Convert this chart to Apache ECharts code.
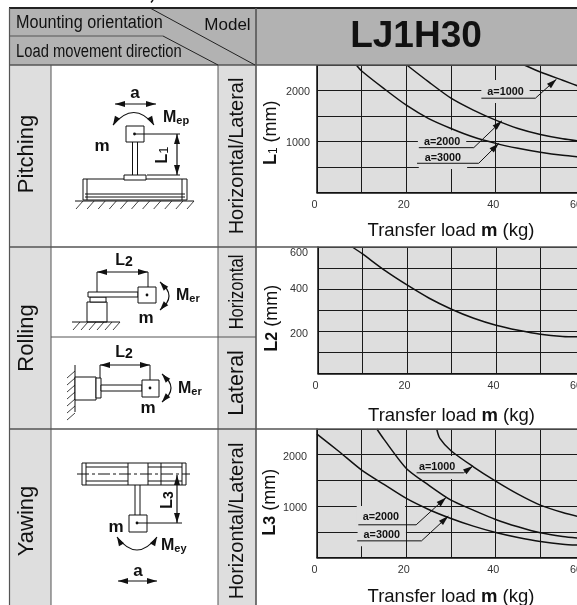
<!DOCTYPE html>
<html><head><meta charset="utf-8">
<style>html,body{margin:0;padding:0;background:#fff;overflow:hidden}#c{width:577px;height:605px}</style>
<script src="https://cdn.jsdelivr.net/npm/echarts@6/dist/echarts.min.js"></script>
</head><body><div id="c"></div>
<script>
// ---------- data ----------
const modelName = 'LJ1H30';
const xTickStep = 10;
const xLabel = 'Transfer load';
const pitchA1000 = [[46.4,2500],[50,2363],[55,2200],[60,2038]];
const pitchA2000 = [[20.1,2500],[25,2168],[30,1849],[35,1615],[40,1419],[45,1256],[50,1139],[55,1055],[60,996]];
const pitchA3000 = [[8.8,2500],[10,2383],[15,2037],[20,1712],[25,1450],[30,1256],[35,1087],[40,963],[45,866],[50,788],[55,729],[60,690]];
const rollCurve = [[7.7,600],[10,567],[15,489],[20,420],[25,357],[30,305],[35,262],[40,229],[45,205],[50,186],[55,176],[60,173]];
const yawA1000 = [[26.8,2500],[27.5,2317],[30,2077],[35,1765],[40,1486],[45,1233],[50,1019],[55,876],[60,766]];
const yawA2000 = [[13.4,2500],[15,2298],[20,1733],[25,1408],[30,1116],[35,922],[40,740],[45,597],[50,480],[55,409],[60,363]];
const yawA3000 = [[0,2402],[5,2058],[10,1701],[15,1422],[20,1149],[25,935],[30,759],[35,610],[40,487],[45,390],[50,312],[55,260],[60,234]];
// annotation: label, label centre, underline start, elbow, arrow tip (data values)
const pitchNotes = [
 ['a=1000',[42.2,1979],[36.8,1849],[48.9,1849],[53.6,2220]],
 ['a=2000',[28.0,996],[22.8,879],[35.1,879],[41.4,1406]],
 ['a=3000',[28.2,684],[22.4,573],[36.2,573],[40.7,963]]
];
const yawNotes = [
 ['a=1000',[26.9,1752],[22.3,1648],[32.8,1648],[34.9,1778]],
 ['a=2000',[14.3,779],[9.25,636],[22.2,636],[28.9,1168]],
 ['a=3000',[14.5,441],[9.0,324],[23.4,324],[29.4,805]]
];
const FONT = '"Liberation Sans",Arial,sans-serif';
const INK = '#111', RULE = '#555', PANEL = '#dedede', HEAD = '#b2b2b2';

// ---------- chart helpers ----------
function noteSeries(idx, notes){
  return {type:'custom',xAxisIndex:idx,yAxisIndex:idx,z:2,clip:false,silent:true,
    data:notes.map(n=>[n[4][0],n[4][1]]),
    encode:{x:0,y:1},
    renderItem(p,api){
      const n=notes[p.dataIndex];
      const c=api.coord(n[1]),s=api.coord(n[2]),e=api.coord(n[3]),t=api.coord(n[4]);
      const dx=t[0]-e[0],dy=t[1]-e[1],l=Math.hypot(dx,dy),ux=dx/l,uy=dy/l;
      const bx=t[0]-ux*10,by=t[1]-uy*10;
      const st={stroke:INK,lineWidth:1,fill:null};
      return {type:'group',children:[
        {type:'text',z2:1,style:{x:c[0],y:c[1],text:n[0],align:'center',verticalAlign:'middle',
          font:'bold 10.8px '+FONT,fill:INK,backgroundColor:PANEL,padding:[6,6,6,6]}},
        {type:'polyline',z2:2,shape:{points:[s,e,t]},style:st},
        {type:'polygon',z2:2,shape:{points:[t,[bx-uy*3,by+ux*3],[bx+uy*3,by-ux*3]]},style:{fill:INK}}
      ]};
    }};
}
function curve(idx,data){
  return {type:'line',xAxisIndex:idx,yAxisIndex:idx,data,smooth:0.25,showSymbol:false,symbol:'none',z:3,
    lineStyle:{color:INK,width:1.5},silent:true};
}
function xAx(idx,gap){
  return {gridIndex:idx,type:'value',min:0,max:60,interval:xTickStep,
    axisLine:{show:true,onZero:false,lineStyle:{color:INK,width:1.5}},axisTick:{show:false},
    splitLine:{show:true,lineStyle:{color:'#1a1a1a',width:1}},
    axisLabel:{color:'#333',fontSize:10.8,fontFamily:FONT,margin:7,showMaxLabel:true,hideOverlap:false,
      formatter:v=>v===60?'{e|60}':(v%20===0?'{d|'+v+'}':''),
      rich:{d:{padding:[0,5,0,0]},e:{padding:[0,18,0,0]}}},
    name:'{n|'+xLabel+' }{b|m}{n| (kg)}',nameLocation:'middle',nameGap:gap,
    nameTextStyle:{rich:{n:{fontSize:18.5,fontFamily:FONT,color:INK},b:{fontSize:18.5,fontWeight:'bold',fontFamily:FONT,color:INK}}}};
}
function yAx(idx,max,step,fmt,rich,sub,margin,shift){
  return {gridIndex:idx,type:'value',min:0,max,interval:step,
    axisLine:{show:true,onZero:false,lineStyle:{color:INK,width:1.5}},axisTick:{show:false},
    splitLine:{show:true,lineStyle:{color:'#1a1a1a',width:1}},
    axisLabel:{color:'#333',fontSize:10.8,fontFamily:FONT,margin,formatter:fmt,rich},
    name:'{l|L}{s|'+sub+'}{n| (mm)}',nameLocation:'middle',nameGap:37,nameRotate:90,
    nameTextStyle:{padding:[0,shift,0,0],rich:{
      l:{fontSize:18,fontWeight:'bold',fontFamily:FONT,color:INK},
      s:{fontSize:sub==='1'?12:16,fontWeight:sub==='1'?'normal':'bold',fontFamily:FONT,color:INK,verticalAlign:'bottom'},
      n:{fontSize:18,fontFamily:FONT,color:INK}}}};
}
const thousands=v=>(v>0&&v%1000===0)?'{d|'+v+'}':'';
const thousandsRich={d:{padding:[4,0,0,0]}};
const hundreds=v=>v===600?'{c|600}':v===400?'{a|400}':v===200?'{b|200}':'';
const hundredsRich={a:{padding:[0,0,0,0]},b:{padding:[6,0,0,0]},c:{padding:[12,0,0,0]}};

// ---------- table and pictograms (not data marks) ----------
const g=[];
const L=(x1,y1,x2,y2,w,c)=>g.push({type:'line',shape:{x1,y1,x2,y2},style:{stroke:c||INK,lineWidth:w||1}});
const R=(x,y,w,h,fill,stroke,lw)=>g.push({type:'rect',shape:{x,y,width:w,height:h},style:{fill:fill||'#fff',stroke:stroke||null,lineWidth:lw||1}});
const T=(text,x,y,font,o)=>g.push(Object.assign({type:'text',x,y,style:{text,x:0,y:0,font:font+' '+FONT,fill:INK,align:'center',verticalAlign:'middle'}},o||{}));
const V=(text,x,y,size,sx)=>T(text,x,y,size+'px',{rotation:Math.PI/2,scaleX:sx||1});
const tri=(x,y,ang,len,hw)=>{const c=Math.cos(ang),s=Math.sin(ang),bx=x-c*len,by=y-s*len;
  g.push({type:'polygon',shape:{points:[[x,y],[bx-s*hw,by+c*hw],[bx+s*hw,by-c*hw]]},style:{fill:INK}});};
const hArrow=(x1,x2,y)=>{L(x1,y,x2,y,1.2);tri(x1,y,Math.PI,10,3);tri(x2,y,0,10,3);};
const vArrow=(x,y1,y2)=>{L(x,y1,x,y2,1.2);tri(x,y1,-Math.PI/2,10,3);tri(x,y2,Math.PI/2,10,3);};
const arc=(x1,y1,cx,cy,x2,y2,a1,a2)=>{g.push({type:'bezierCurve',shape:{x1,y1,x2,y2,cpx1:cx,cpy1:cy},style:{stroke:INK,lineWidth:1.2,fill:null}});
  tri(x1,y1,a1,9,3);tri(x2,y2,a2,9,3);};
const hatch=(x1,x2,y,n)=>{L(x1,y,x2,y,1);for(let i=0;i<n;i++){const x=x1+8+i*(x2-x1-8)/(n-1);L(x,y,x-7,y+8,0.8);}};
const M=(x,y,sub)=>g.push({type:'text',x,y,style:{text:'{m|M}{s|'+sub+'}',x:0,y:0,verticalAlign:'middle',rich:{
  m:{font:'bold 16px '+FONT,fill:INK},s:{font:'bold 11px '+FONT,fill:INK,verticalAlign:'bottom'}}}});
const Lb=(x,y,sub,rot,size)=>g.push({type:'text',x,y,rotation:rot?Math.PI/2:0,style:{text:'{m|L}{s|'+sub+'}',x:0,y:0,align:'center',verticalAlign:'middle',rich:{
  m:{font:'bold 16px '+FONT,fill:INK},s:{font:(sub==='1'?'':'bold ')+(size||13)+'px '+FONT,fill:INK,verticalAlign:'bottom'}}}});

// fills
R(9,8,568,57,HEAD);
R(9,65,42,540,PANEL);
R(218,65,38,540,PANEL);
// header text
T('Mounting orientation',16,23,'18px',{scaleX:.9});g[g.length-1].style.align='left';
T('Load movement direction',16,52,'18px',{scaleX:.82});g[g.length-1].style.align='left';
T('Model',227.5,25,'17px');
T(modelName,416,37,'bold 37px');
// rules
L(9,8,577,8,2,'#222');
L(9.5,8,9.5,605,1.2,RULE);L(51,65,51,605,1,RULE);L(218,65,218,605,1,RULE);L(256,8,256,605,1.6,RULE);
L(9,65,577,65,1.4,RULE);L(9,247,577,247,1.4,RULE);L(9,429,577,429,1.6,RULE);L(51,337,256,337,1,RULE);
L(9,36,163,36,1,RULE);L(163,36,218,65,1,'#222');L(150,8,255,65,1,'#222');
L(153,0,151,2.5,1.5);
// side labels
V('Pitching',27,154,22);V('Rolling',27,338,22);V('Yawing',27,521,22);
V('Horizontal/Lateral',237,156,20);V('Horizontal',237,292,20,.83);V('Lateral',237,383,21.5);V('Horizontal/Lateral',237,521,20);

// pitching
T('a',135,93,'bold 17px');hArrow(115,156,104);
arc(113,125,134,100,154,125,2.1,1.05);
M(163,118,'ep');T('m',102,146,'bold 17px');
L(132.5,142,132.5,175);L(137.5,142,137.5,175);
R(126,126,18,16,'#fff',INK);g.push({type:'circle',shape:{cx:134.5,cy:134,r:1.4},style:{fill:INK}});L(134.5,134,180,134);
R(83,179,104,21,'#fff',INK);R(124,175,22,5,'#fff',INK);
L(87,179,87,200);L(182,179,182,200);L(85,194,185,194);L(85,197,185,197);
hatch(75,194,201,11);
vArrow(177,134,175);L(147,175,180,175);Lb(163,155,'1',true);

// rolling horizontal
Lb(124,261,'2',false,14);hArrow(97,148,272);L(97,272,97,293);L(148,272,148,287);
R(87,302,20,20,'#fff',INK);R(90,297,16,5,'#fff',INK);R(88,292,50,5,'#fff',INK);
R(138,287,18,16,'#fff',INK);g.push({type:'circle',shape:{cx:147,cy:295,r:1.4},style:{fill:INK}});
hatch(72,120,322,6);
arc(160,282,178,296,160,310,-2.3,2.3);M(176,296,'er');T('m',146,318,'bold 17px');

// rolling lateral
Lb(124,353,'2',false,14);hArrow(100,150,365);L(100,365,100,378);L(150,365,150,380);
L(75,365,75,412);for(let i=0;i<7;i++){const y=371+i*7;L(75,y,67,y+7,.8);}
R(75,377,21,23,'#fff',INK);R(96,378,5,20,'#fff',INK);R(101,385,41,6,'#fff',INK);
R(142,380,17,17,'#fff',INK);g.push({type:'circle',shape:{cx:150,cy:388,r:1.4},style:{fill:INK}});
arc(162,374,180,388,162,402,-2.3,2.3);M(178,389,'er');T('m',148,408,'bold 17px');

// yawing
R(82,463,104,22,'#fff',INK);L(86,463,86,485);L(182,463,182,485);L(161,463,161,485);
L(86,467,128,467);L(86,481,128,481);L(148,467,182,467);L(148,481,182,481);
L(128,463,128,485);L(148,463,148,485);
g.push({type:'line',shape:{x1:77,y1:474,x2:190,y2:474},style:{stroke:INK,lineWidth:1,lineDash:[12,3,3,3]}});
L(135,485,135,515);L(140,485,140,515);
R(129,515,18,17,'#fff',INK);g.push({type:'circle',shape:{cx:137,cy:523,r:1.4},style:{fill:INK}});L(137,523,182,523);
vArrow(177,475,523);Lb(168,500,'3',true,14);
T('m',116,527,'bold 17px');arc(117,537,137,563,157,537,-2.1,-1.05);M(161,546,'ey');
T('a',138,571,'bold 17px');hArrow(118,157,581);

const chart=echarts.init(document.getElementById('c'),null,{renderer:'canvas'});
const gridBase={show:true,backgroundColor:PANEL,borderWidth:0,outerBoundsMode:'none',containLabel:false};
chart.setOption({
  animation:false,backgroundColor:'#fff',
  grid:[
    Object.assign({left:317,top:65,width:268,height:127.5},gridBase),
    Object.assign({left:318,top:247,width:267,height:126.5},gridBase),
    Object.assign({left:317,top:429,width:268,height:128.5},gridBase)
  ],
  xAxis:[xAx(0,29),xAx(1,33),xAx(2,30)],
  yAxis:[yAx(0,2500,500,thousands,thousandsRich,'1',7,8),yAx(1,600,100,hundreds,hundredsRich,'2',10,16),yAx(2,2500,500,thousands,thousandsRich,'3',10,18)],
  series:[
    noteSeries(0,pitchNotes),curve(0,pitchA1000),curve(0,pitchA2000),curve(0,pitchA3000),
    curve(1,rollCurve),
    noteSeries(2,yawNotes),curve(2,yawA1000),curve(2,yawA2000),curve(2,yawA3000)
  ],
  graphic:{elements:g.map(e=>Object.assign({silent:true,z:10},e))}
});
</script></body></html>
